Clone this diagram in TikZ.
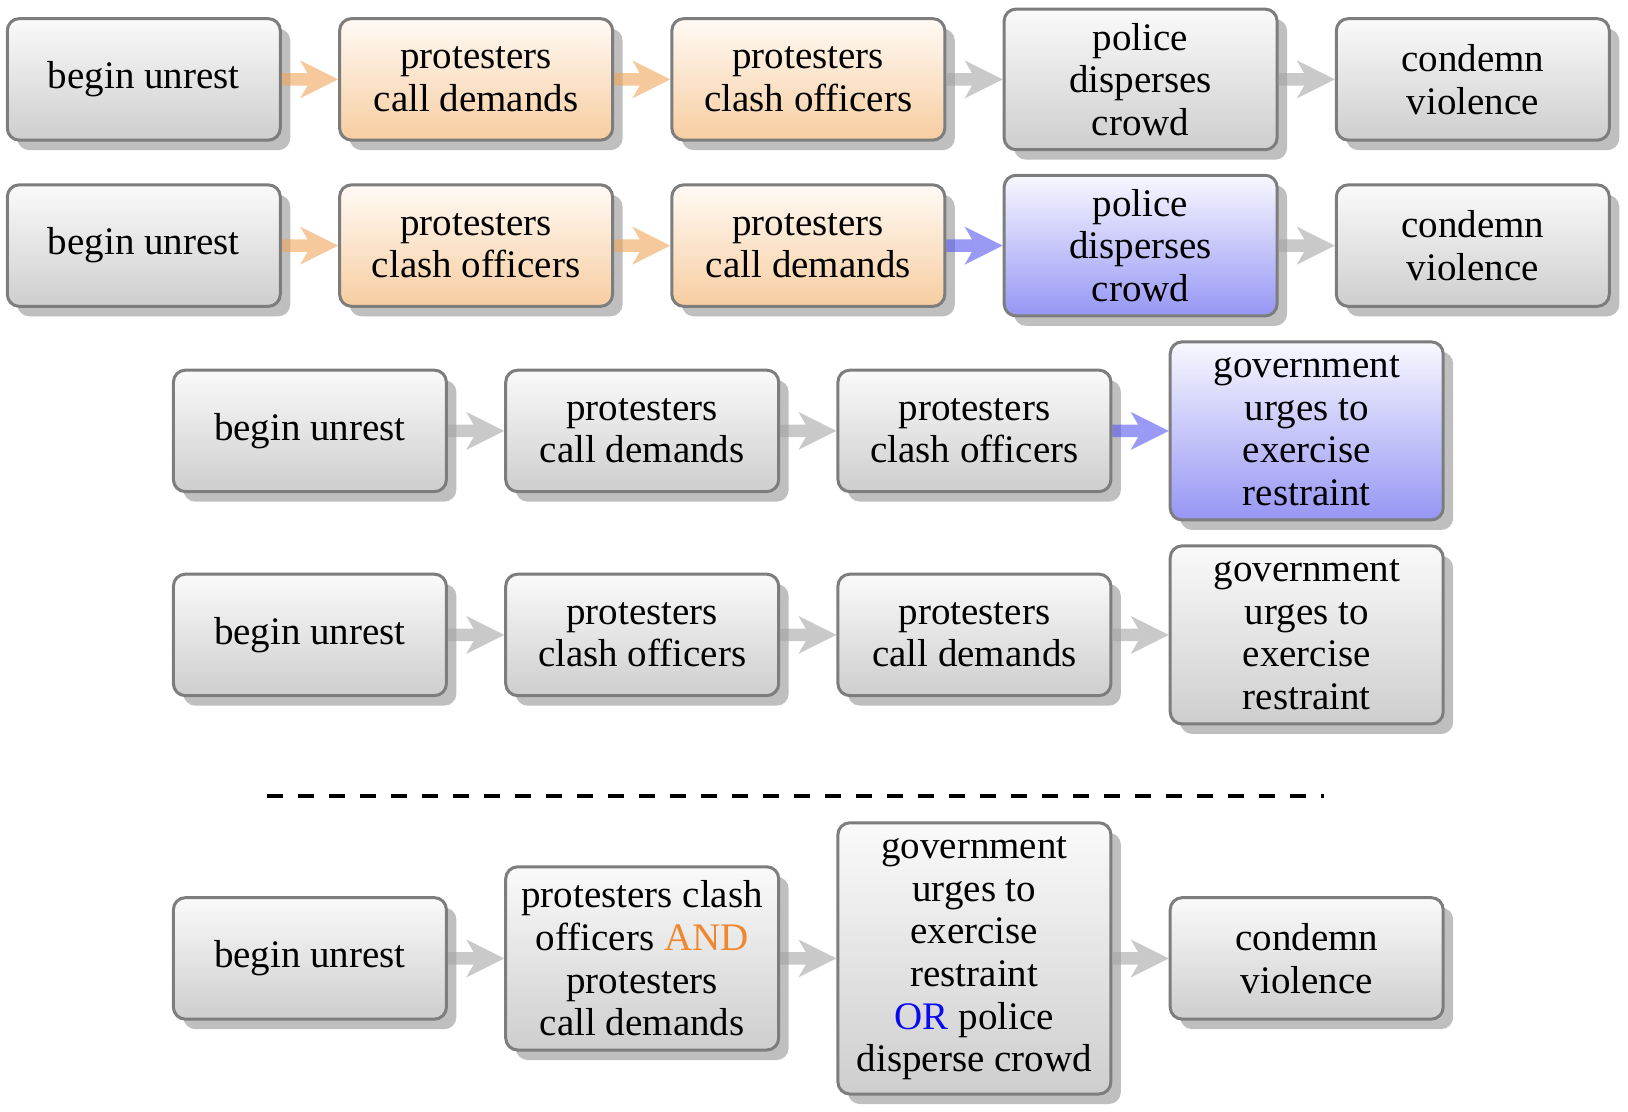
\documentclass[tikz,border=0pt]{standalone}
\usepackage{fontspec}
\setmainfont{Liberation Serif}
\usetikzlibrary{arrows.meta,shadows}
\definecolor{boxborder}{RGB}{125,125,125}
\definecolor{graybot}{RGB}{206,206,206}
\definecolor{grtop}{RGB}{250,250,250}
\definecolor{orbot}{RGB}{247,205,160}
\definecolor{ortop}{RGB}{255,250,245}
\definecolor{blbot}{RGB}{150,150,245}
\definecolor{bltop}{RGB}{248,248,255}
\definecolor{arrgray}{RGB}{165,165,165}
\definecolor{arror}{RGB}{240,165,90}
\definecolor{arrbl}{RGB}{85,85,240}
\definecolor{andc}{RGB}{240,135,45}
\definecolor{orc}{RGB}{10,10,240}
\begin{document}
\begin{tikzpicture}[x=0.5pt,y=-0.5pt,
  box/.style={draw=boxborder, line width=1.5pt, rounded corners=6pt,
    minimum width=136.5pt, minimum height=60.75pt, inner xsep=3pt, inner ysep=7pt,
    align=center, font=\fontsize{19.5pt}{21.3pt}\selectfont,
    drop shadow={shadow xshift=5pt, shadow yshift=-5pt, fill=black!25, opacity=1},
    top color=grtop, bottom color=graybot},
  obox/.style={box, top color=ortop, bottom color=orbot},
  bbox/.style={box, top color=bltop, bottom color=blbot},
  arr/.style={line width=6.3pt, -{Stealth[length=19pt, width=19pt, inset=5.5pt, line width=0pt]}},
  ga/.style={arr, arrgray}, oa/.style={arr, arror}, ba/.style={arr, arrbl}]
\useasboundingbox (0,0) rectangle (1628,1112);
% row 1
\node[box]  (a1) at (143.8,79.4) {begin unrest};
\node[obox] (a2) at (476.1,79.4) {protesters\\call demands};
\node[obox] (a3) at (808.3,79.4) {protesters\\clash officers};
\node[box]  (a4) at (1140.6,79.4) {police\\disperses\\crowd};
\node[box]  (a5) at (1472.8,79.4) {condemn\\violence};
% row 2
\node[box]  (b1) at (143.8,245.6) {begin unrest};
\node[obox] (b2) at (476.1,245.6) {protesters\\clash officers};
\node[obox] (b3) at (808.3,245.6) {protesters\\call demands};
\node[bbox] (b4) at (1140.6,245.6) {police\\disperses\\crowd};
\node[box]  (b5) at (1472.8,245.6) {condemn\\violence};
% row 3
\node[box]  (c1) at (309.9,430.9) {begin unrest};
\node[box]  (c2) at (642.2,430.9) {protesters\\call demands};
\node[box]  (c3) at (974.4,430.9) {protesters\\clash officers};
\node[bbox] (c4) at (1306.7,430.9) {government\\urges to\\exercise\\restraint};
% row 4
\node[box]  (d1) at (309.9,634.9) {begin unrest};
\node[box]  (d2) at (642.2,634.9) {protesters\\clash officers};
\node[box]  (d3) at (974.4,634.9) {protesters\\call demands};
\node[box]  (d4) at (1306.7,634.9) {government\\urges to\\exercise\\restraint};
% separator
\coordinate (s1) at (266.8,796.4);
\coordinate (s2) at (1323.8,796.4);
\draw[line width=2pt, dash pattern=on 8pt off 7.5pt] (s1) -- (s2);
% row 5
\node[box]  (e1) at (309.9,958.4) {begin unrest};
\node[box]  (e2) at (642.2,958.4) {protesters clash\\officers \textcolor{andc}{AND}\\protesters\\call demands};
\node[box]  (e3) at (974.4,958.4) {government\\urges to\\exercise\\restraint\\\textcolor{orc}{OR} police\\disperse crowd};
\node[box]  (e4) at (1306.7,958.4) {condemn\\violence};
% arrows
\begin{scope}[transparency group, opacity=0.6]
\draw[oa] (a1.east) -- (a2.west);
\draw[oa] (a2.east) -- (a3.west);
\draw[ga] (a3.east) -- (a4.west);
\draw[ga] (a4.east) -- (a5.west);
\draw[oa] (b1.east) -- (b2.west);
\draw[oa] (b2.east) -- (b3.west);
\draw[ba] (b3.east) -- (b4.west);
\draw[ga] (b4.east) -- (b5.west);
\draw[ga] (c1.east) -- (c2.west);
\draw[ga] (c2.east) -- (c3.west);
\draw[ba] (c3.east) -- (c4.west);
\draw[ga] (d1.east) -- (d2.west);
\draw[ga] (d2.east) -- (d3.west);
\draw[ga] (d3.east) -- (d4.west);
\draw[ga] (e1.east) -- (e2.west);
\draw[ga] (e2.east) -- (e3.west);
\draw[ga] (e3.east) -- (e4.west);
\end{scope}
\end{tikzpicture}
\end{document}
